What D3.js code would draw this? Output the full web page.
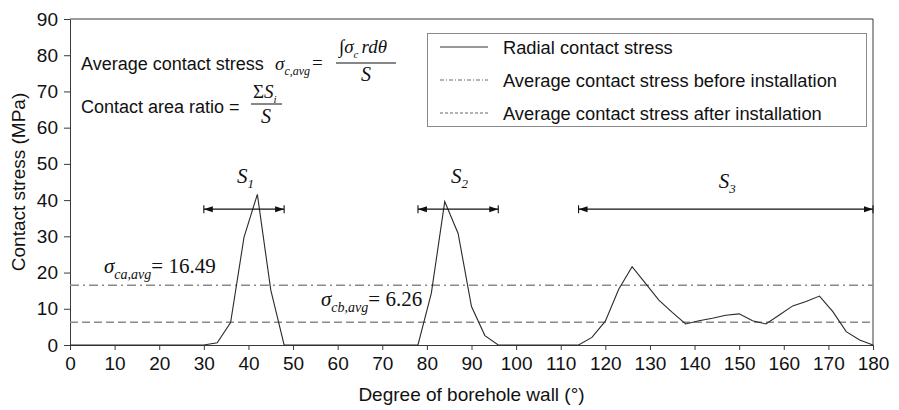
<!DOCTYPE html>
<html>
<head>
<meta charset="utf-8">
<script src="https://cdn.jsdelivr.net/npm/d3@7"></script>
<style>
  html, body { margin: 0; padding: 0; background: #fff; }
  svg { display: block; }
  text { font-family: Arial, "Liberation Sans", sans-serif; fill: #111; }
  .serif { font-family: "Times New Roman", "Liberation Serif", serif; }
</style>
</head>
<body>
<svg id="chart" width="899" height="410"></svg>
<script>
// ---- data ----
const angles = [0,3,6,9,12,15,18,21,24,27,30,33,36,39,42,45,48,51,54,57,60,63,66,69,72,75,78,81,84,87,90,93,96,99,102,105,108,111,114,117,120,123,126,129,132,135,138,141,144,147,150,153,156,159,162,165,168,171,174,177,180];
const stress = [0,0,0,0,0,0,0,0,0,0,0,0.6,6.2,29.7,41.6,15.2,0,0,0,0,0,0,0,0,0,0,0,14.3,39.6,30.8,10.6,2.6,0,0,0,0,0,0,0,2.1,6.6,15.4,21.6,17.0,12.4,9.0,5.8,6.7,7.4,8.2,8.6,6.7,5.8,8.3,10.8,12.0,13.5,9.2,3.7,1.4,0];
const avgBefore = 16.49;
const avgAfter = 6.26;
const xTicks = [0,10,20,30,40,50,60,70,80,90,100,110,120,130,140,150,160,170,180];
const yTicks = [0,10,20,30,40,50,60,70,80,90];
const spanNames = ["1","2","3"];
const spanStart = [30,78,114];
const spanEnd = [48,96,180];
const spanLevel = 37.5;
const legendLabels = ["Radial contact stress","Average contact stress before installation","Average contact stress after installation"];

// ---- layout ----
const W = 899, H = 410;
const m = {left:70, right:26, top:19, bottom:65};
const svg = d3.select("#chart");
const x = d3.scaleLinear().domain([0,180]).range([m.left, W - m.right]);
const y = d3.scaleLinear().domain([0,90]).range([H - m.bottom, m.top]);
const axisColor = "#3a3a3a";
const refColor = "#8a8a8a";

// frame (top and right)
svg.append("path")
  .attr("d", `M${x(0)},${y(90)}H${x(180)}V${y(0)}`)
  .attr("fill","none").attr("stroke",axisColor).attr("stroke-width",1);

// axes
const xAxis = svg.append("g").attr("transform",`translate(0,${y(0)})`)
  .call(d3.axisBottom(x).tickValues(xTicks).tickSize(5).tickPadding(7).tickSizeOuter(0));
const yAxis = svg.append("g").attr("transform",`translate(${x(0)},0)`)
  .call(d3.axisLeft(y).tickValues(yTicks).tickSize(6).tickPadding(6).tickSizeOuter(0));
[xAxis, yAxis].forEach(a => {
  a.select(".domain").attr("stroke",axisColor);
  a.selectAll(".tick line").attr("stroke",axisColor);
  a.selectAll(".tick text").attr("font-family","Arial, 'Liberation Sans', sans-serif")
   .attr("font-size",19).attr("fill","#111");
});

svg.append("text").attr("x", x(90)).attr("y", 401).attr("text-anchor","middle")
  .attr("font-size",19).text("Degree of borehole wall (°)");
svg.append("text").attr("transform",`translate(25,${182}) rotate(-90)`).attr("text-anchor","middle")
  .attr("font-size",19).text("Contact stress (MPa)");

// reference lines
svg.append("line").attr("x1",x(0)).attr("x2",x(180)).attr("y1",y(avgBefore)).attr("y2",y(avgBefore))
  .attr("stroke",refColor).attr("stroke-width",1.4).attr("stroke-dasharray","9,4,2,4");
svg.append("line").attr("x1",x(0)).attr("x2",x(180)).attr("y1",y(avgAfter)).attr("y2",y(avgAfter))
  .attr("stroke",refColor).attr("stroke-width",1.4).attr("stroke-dasharray","8,4");

// curve
const pts = angles.map((a,i)=>[a, stress[i]]);
svg.append("path").datum(pts)
  .attr("d", d3.line().x(d=>x(d[0])).y(d=>y(d[1])))
  .attr("fill","none").attr("stroke","#2a2a2a").attr("stroke-width",1.1);

// span arrows
spanStart.forEach((s,i)=>{
  const x1 = x(s), x2 = x(spanEnd[i]), yy = y(spanLevel);
  const g = svg.append("g").attr("stroke","#111").attr("fill","#111");
  g.append("line").attr("x1",x1).attr("x2",x2).attr("y1",yy).attr("y2",yy).attr("stroke-width",1.1);
  g.append("line").attr("x1",x1).attr("x2",x1).attr("y1",yy-4).attr("y2",yy+4).attr("stroke-width",1.1);
  g.append("path").attr("d",`M${x1},${yy}l9,-3v6z`).attr("stroke","none");
  g.append("line").attr("x1",x2).attr("x2",x2).attr("y1",yy-4).attr("y2",yy+4).attr("stroke-width",1.1);
  g.append("path").attr("d",`M${x2},${yy}l-9,-3v6z`).attr("stroke","none");
  const cx = (x1 + x2) / 2;
  const t = svg.append("text").attr("class","serif").attr("x", cx - 7).attr("y", i === 2 ? 188 : 183)
    .attr("font-size",21).attr("font-style","italic");
  t.append("tspan").text("S");
  t.append("tspan").attr("font-size",13).attr("dy",5).text(spanNames[i]);
});

// annotations for averages
function sigma(xp, yp, sub, rest){
  const t = svg.append("text").attr("class","serif").attr("x",xp).attr("y",yp).attr("font-size",21);
  t.append("tspan").attr("font-style","italic").text("σ");
  t.append("tspan").attr("font-style","italic").attr("font-size",14).attr("dy",6).text(sub);
  t.append("tspan").attr("dy",-6).text(rest);
  return t;
}
sigma(104, 273, "ca,avg", "= 16.49");
sigma(321, 306, "cb,avg", "= 6.26");

// formulas
svg.append("text").attr("x",81).attr("y",70).attr("font-size",18).text("Average contact stress");
{
  const t = svg.append("text").attr("class","serif").attr("x",275).attr("y",70).attr("font-size",19);
  t.append("tspan").attr("font-style","italic").text("σ");
  t.append("tspan").attr("font-style","italic").attr("font-size",12).attr("dy",5).text("c,avg");
  t.append("tspan").attr("dy",-6).attr("dx",2).text("=");
  const n = svg.append("text").attr("class","serif").attr("x",339).attr("y",53).attr("font-size",19);
  n.append("tspan").text("∫");
  n.append("tspan").attr("font-style","italic").text("σ");
  n.append("tspan").attr("font-style","italic").attr("font-size",11).attr("dy",5).text("c");
  n.append("tspan").attr("font-style","italic").attr("dy",-5).attr("dx",3).text("rdθ");
  svg.append("line").attr("x1",336).attr("x2",396).attr("y1",63).attr("y2",63).attr("stroke","#111").attr("stroke-width",1);
  svg.append("text").attr("class","serif").attr("x",366).attr("y",81).attr("font-size",20)
    .attr("text-anchor","middle").attr("font-style","italic").text("S");
}
svg.append("text").attr("x",81).attr("y",113).attr("font-size",18).text("Contact area ratio =");
{
  const n = svg.append("text").attr("class","serif").attr("x",253).attr("y",98).attr("font-size",19);
  n.append("tspan").text("Σ");
  n.append("tspan").attr("font-style","italic").text("S");
  n.append("tspan").attr("font-style","italic").attr("font-size",11).attr("dy",5).text("i");
  svg.append("line").attr("x1",251).attr("x2",282).attr("y1",104).attr("y2",104).attr("stroke","#111").attr("stroke-width",1);
  svg.append("text").attr("class","serif").attr("x",266).attr("y",123).attr("font-size",20)
    .attr("text-anchor","middle").attr("font-style","italic").text("S");
}

// legend
const lg = svg.append("g");
lg.append("rect").attr("x",427.5).attr("y",33.5).attr("width",439).attr("height",93)
  .attr("fill","#fff").attr("stroke","#8a8a8a").attr("stroke-width",1);
const sampleDash = [null, "4,2,1,2", "3,2"];
const sampleColor = ["#333", "#666", "#666"];
legendLabels.forEach((lab,i)=>{
  const yy = 47 + i*33;
  lg.append("line").attr("x1",440).attr("x2",488).attr("y1",yy).attr("y2",yy)
    .attr("stroke",sampleColor[i]).attr("stroke-width",1).attr("stroke-dasharray",sampleDash[i]);
  lg.append("text").attr("x",503).attr("y",yy+6.5).attr("font-size",18.3).text(lab);
});
</script>
</body>
</html>
